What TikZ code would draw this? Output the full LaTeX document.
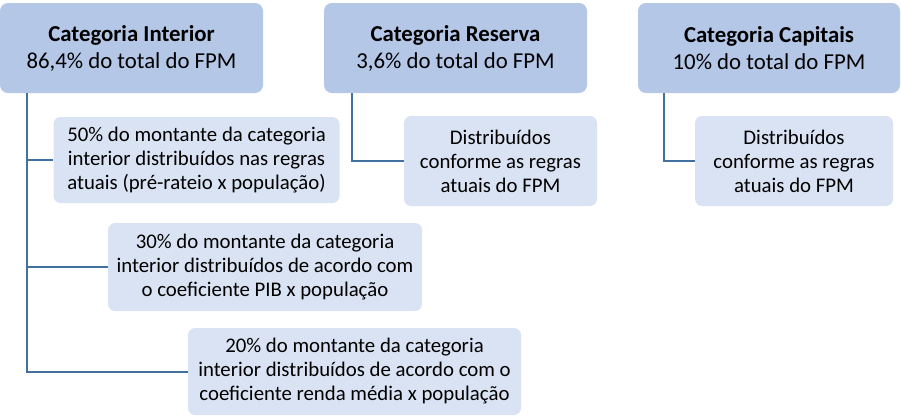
\documentclass[tikz,border=0pt]{standalone}
\usepackage{fontspec}
\setmainfont{Carlito}
\usepackage{xcolor}
\usetikzlibrary{positioning,calc}
\definecolor{topblue}{HTML}{B4C7E7}
\definecolor{subblue}{HTML}{DAE3F3}
\definecolor{linkblue}{HTML}{41719C}
\tikzset{
catbox/.style={fill=topblue, rounded corners=8pt, inner sep=0pt, minimum height=90pt, align=center, font=\fontsize{22.8}{27}\selectfont},
subbox/.style={fill=subblue, rounded corners=7pt, inner sep=0pt, align=center, font=\fontsize{20.8}{24}\selectfont},
link/.style={draw=linkblue, line width=2pt}
}
\begin{document}
\begin{tikzpicture}[x=1pt,y=-1pt]
\useasboundingbox (0,0) rectangle (901,418);
\node[catbox, minimum width=263pt] (int) at (131.5,48) {\textbf{Categoria Interior}\\86,4\% do total do FPM};
\node[catbox, minimum width=263pt] (res) at (455.5,48) {\textbf{Categoria Reserva}\\3,6\% do total do FPM};
\node[catbox, minimum width=262pt] (cap) at (769,48) {\textbf{Categoria Capitais}\\10\% do total do FPM};
\node[subbox, minimum width=286pt, minimum height=86pt] (int1) at (196.5,160) {50\% do montante da categoria\\interior distribuídos nas regras\\atuais (pré-rateio x população)};
\node[subbox, minimum width=314pt, minimum height=88pt] (int2) at (265,267) {30\% do montante da categoria\\interior distribuídos de acordo com\\o coeficiente PIB x população};
\node[subbox, minimum width=333pt, minimum height=87pt] (int3) at (354.5,371.5) {20\% do montante da categoria\\interior distribuídos de acordo com o\\coeficiente renda média x população};
\node[subbox, minimum width=193pt, minimum height=90pt] (res1) at (500.5,161) {Distribuídos\\conforme as regras\\atuais do FPM};
\node[subbox, minimum width=198pt, minimum height=90pt] (cap1) at (794,161) {Distribuídos\\conforme as regras\\atuais do FPM};
\draw[link] ([xshift=27pt]int.south west) |- (int1.west);
\draw[link] ([xshift=27pt]int.south west) |- (int2.west);
\draw[link] ([xshift=27pt]int.south west) |- (int3.west);
\draw[link] ([xshift=28pt]res.south west) |- (res1.west);
\draw[link] ([xshift=26pt]cap.south west) |- (cap1.west);
\end{tikzpicture}
\end{document}
